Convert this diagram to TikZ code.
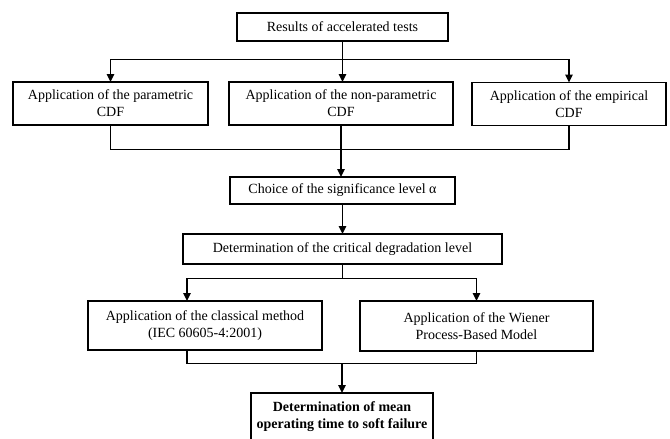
\documentclass[tikz,border=0pt]{standalone}
\usepackage{fontspec}
\setmainfont{Liberation Serif}
\usetikzlibrary{arrows.meta}
\tikzset{
  box/.style={draw=black, line width=1.6pt, fill=white, align=center, inner sep=2pt, outer sep=0pt, font=\fontsize{14}{17}\selectfont},
  endbox/.style={box, font=\fontsize{14}{17}\selectfont\bfseries},
  ln/.style={draw=black, line width=1.6pt},
  arw/.style={ln, -{Triangle[length=8pt,width=7.5pt]}},
}
\begin{document}
\begin{tikzpicture}[x=1pt,y=-1pt]
\useasboundingbox (0,0) rectangle (670,439);
% boxes
\node[box, minimum width=211pt, minimum height=28pt] (res) at (342.5,27) {Results of accelerated tests};
\node[box, minimum width=195pt, minimum height=43pt] (par) at (110.5,103.5) {Application of the parametric\\CDF};
\node[box, minimum width=224pt, minimum height=43pt] (npar) at (341,103.5) {Application of the non-parametric\\CDF};
\node[box, minimum width=194pt, minimum height=43pt] (emp) at (569,104) {Application of the empirical\\CDF};
\node[box, minimum width=225pt, minimum height=27pt] (cho) at (342.5,190.5) {Choice of the significance level α};
\node[box, minimum width=319pt, minimum height=30pt] (crit) at (342.5,249) {Determination of the critical degradation level};
\node[box, minimum width=234pt, minimum height=49pt] (cls) at (205,325.5) {Application of the classical method\\(IEC 60605-4:2001)};
\node[box, minimum width=233pt, minimum height=50pt] (wie) at (476.5,326) {Application of the Wiener\\Process-Based Model};
\node[endbox, minimum width=182pt, minimum height=48pt] (fin) at (342,417) {Determination of mean\\operating time to soft failure};
% connectors
\draw[arw] (res.south) -- ++(0,18.5) -| (par.north);
\draw[arw] (res.south) -- ++(0,18.5) -| (emp.north);
\draw[arw] (res.south) -- (res.south |- npar.north);
\draw[ln] (par.south) -- ++(0,24.5) -| (emp.south);
\draw[arw] (npar.south) -- (npar.south |- cho.north);
\draw[arw] (cho) -- (crit);
\draw[arw] (crit.south) -- ++(0,14.5) -| ([xshift=-18pt]cls.north);
\draw[arw] (crit.south) -- ++(0,14.5) -| (wie.north);
\draw[ln] ([xshift=-18pt]cls.south) -- ++(0,13.5) -| (wie.south);
\coordinate (join) at (fin.north |- 0,363.5);
\draw[arw] (join) -- (fin.north);
\end{tikzpicture}
\end{document}
